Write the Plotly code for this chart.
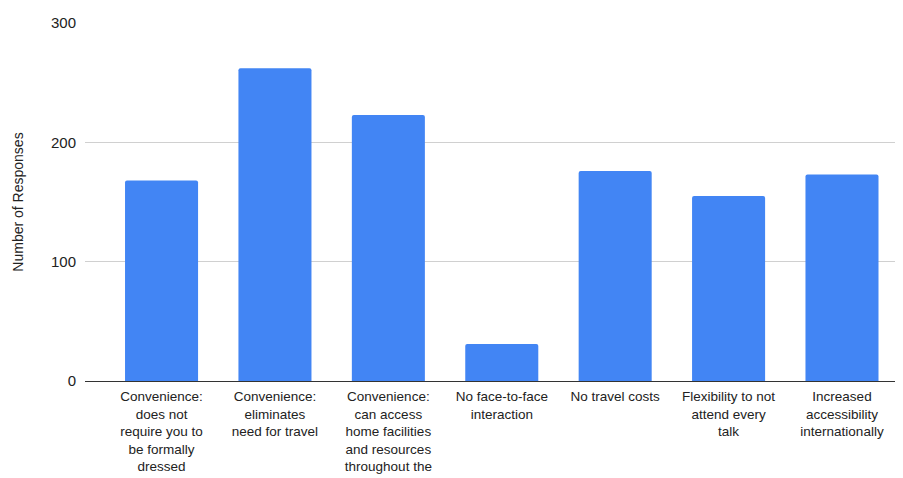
import plotly.graph_objects as go

categories = [
    "Convenience:<br>does not<br>require you to<br>be formally<br>dressed",
    "Convenience:<br>eliminates<br>need for travel",
    "Convenience:<br>can access<br>home facilities<br>and resources<br>throughout the<br>day",
    "No face-to-face<br>interaction",
    "No travel costs",
    "Flexibility to not<br>attend every<br>talk",
    "Increased<br>accessibility<br>internationally",
]
responses = [168, 262, 223, 31, 176, 155, 173]
y_ticks = [0, 100, 200, 300]
y_title = "Number of Responses"

FONT = "Liberation Sans, Arial, sans-serif"
TEXT = "#222222"

idx = list(range(len(categories)))

fig = go.Figure(
    go.Bar(
        x=idx,
        y=responses,
        marker=dict(color="#4285F4", cornerradius=2, line=dict(width=0)),
        width=0.644,
        hoverinfo="skip",
    )
)

fig.update_layout(
    width=895, height=470,
    margin=dict(l=77, r=0, t=15, b=97, autoexpand=False),
    paper_bgcolor="white", plot_bgcolor="white",
    showlegend=False,
    font=dict(family=FONT, color=TEXT),
)
fig.update_xaxes(
    range=[-0.675, 6.538],
    tickmode="array", tickvals=idx, ticktext=categories,
    tickangle=0, ticks="", ticklabelstandoff=3,
    tickfont=dict(family=FONT, size=13.5, color=TEXT),
    showgrid=False, zeroline=False,
    showline=True, linecolor="#333333", linewidth=1,
    automargin=False,
    fixedrange=True,
)
fig.update_yaxes(
    range=[0, 300], tickvals=y_ticks,
    showgrid=True, gridcolor="#d0d0d0", gridwidth=1,
    zeroline=False, showline=False,
    ticklabelstandoff=8,
    tickfont=dict(family=FONT, size=15, color=TEXT),
    title=dict(text=y_title, font=dict(family=FONT, size=14, color=TEXT), standoff=24),
    automargin=False,
    fixedrange=True,
)

fig.write_html("out.html", config={"displayModeBar": False})
